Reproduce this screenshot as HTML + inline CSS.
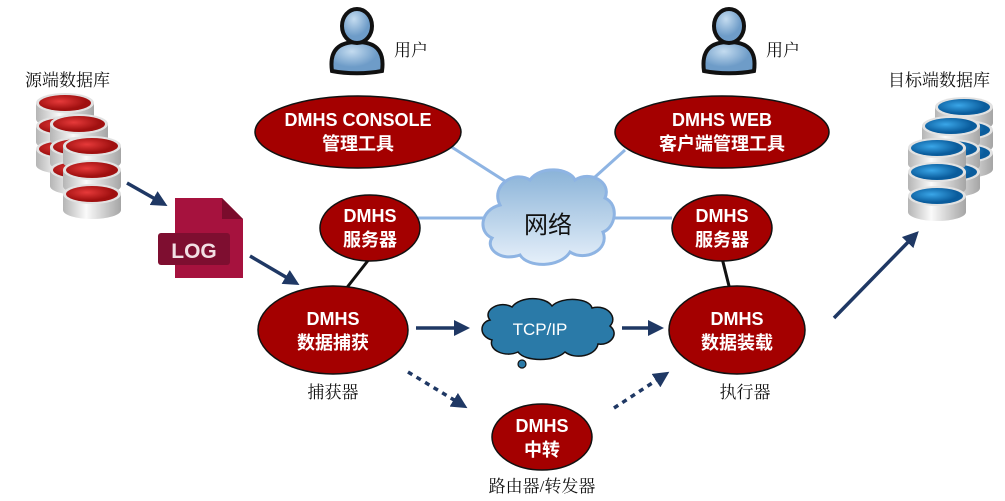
<!DOCTYPE html>
<html><head><meta charset="utf-8"><style>
html,body{margin:0;padding:0;background:#fff;width:1005px;height:501px;overflow:hidden}
svg{display:block}
.cn{font-family:"Liberation Serif","Noto Serif CJK SC",serif;font-size:17px;fill:#111}
.w{font-family:"Liberation Sans","Noto Sans CJK SC",sans-serif;font-weight:bold;fill:#fff;font-size:18px;text-anchor:middle}
</style></head><body>
<svg width="1005" height="501" viewBox="0 0 1005 501">
<defs>
<linearGradient id="cyl" x1="0" x2="1"><stop offset="0" stop-color="#b5b5b5"/><stop offset=".4" stop-color="#fafafa"/><stop offset="1" stop-color="#a5a5a5"/></linearGradient>
<radialGradient id="red" cx=".4" cy=".4"><stop offset="0" stop-color="#e63a3a"/><stop offset="1" stop-color="#a01010"/></radialGradient>
<radialGradient id="blue" cx=".4" cy=".4"><stop offset="0" stop-color="#3aa6e8"/><stop offset="1" stop-color="#0a5c9c"/></radialGradient>
<radialGradient id="user" cx=".4" cy=".3"><stop offset="0" stop-color="#c4dcf0"/><stop offset="1" stop-color="#6e9cc8"/></radialGradient>
<linearGradient id="cloud" x1="0" y1="0" x2="0" y2="1"><stop offset="0" stop-color="#8ab3d8"/><stop offset="1" stop-color="#e6f0fa"/></linearGradient>
<marker id="ah2" markerWidth="16" markerHeight="16" refX="12" refY="8" orient="auto" markerUnits="userSpaceOnUse" viewBox="0 0 16 16"><path d="M0,0 L16,8 L0,16z" fill="#1f3864"/></marker>
<g id="cylr"><rect x="0" y="0" width="58" height="16" fill="url(#cyl)"/><ellipse cx="29" cy="16" rx="29" ry="9" fill="url(#cyl)"/><ellipse cx="29" cy="0" rx="29" ry="10" fill="#e2e2e2"/><ellipse cx="29" cy="0" rx="26" ry="8" fill="url(#red)"/></g>
<g id="cylb"><rect x="0" y="0" width="58" height="16" fill="url(#cyl)"/><ellipse cx="29" cy="16" rx="29" ry="9" fill="url(#cyl)"/><ellipse cx="29" cy="0" rx="29" ry="10" fill="#e2e2e2"/><ellipse cx="29" cy="0" rx="26" ry="8" fill="url(#blue)"/></g>
<g id="usr"><path d="M-25,33 C-28,12 -18,4 0,4 C18,4 28,12 25,33 C10,36 -10,36 -25,33 Z" fill="url(#user)" stroke="#111" stroke-width="4"/><ellipse cx="0" cy="-12" rx="15" ry="17" fill="url(#user)" stroke="#111" stroke-width="4"/></g>
</defs>

<text x="25" y="86" class="cn">源端数据库</text>
<use href="#cylr" x="36" y="103"/><use href="#cylr" x="36" y="126"/><use href="#cylr" x="36" y="149"/>
<use href="#cylr" x="50" y="124"/><use href="#cylr" x="50" y="147"/><use href="#cylr" x="50" y="170"/>
<use href="#cylr" x="63" y="146"/><use href="#cylr" x="63" y="170"/><use href="#cylr" x="63" y="194"/>

<text x="888" y="86" class="cn">目标端数据库</text>
<use href="#cylb" x="935" y="107"/><use href="#cylb" x="935" y="130"/><use href="#cylb" x="935" y="153"/>
<use href="#cylb" x="922" y="126"/><use href="#cylb" x="922" y="149"/><use href="#cylb" x="922" y="172"/>
<use href="#cylb" x="908" y="148"/><use href="#cylb" x="908" y="172"/><use href="#cylb" x="908" y="196"/>

<path d="M175,198 L222,198 L243,219 L243,278 L175,278 Z" fill="#a6123e"/>
<path d="M222,198 L243,219 L222,219 Z" fill="#7a0c2c"/>
<rect x="158" y="233" width="72" height="32" rx="3" fill="#7e0e30"/>
<text x="194" y="258" font-family="Liberation Sans,sans-serif" font-weight="bold" font-size="21" fill="#f2dfe4" text-anchor="middle">LOG</text>

<use href="#usr" x="357" y="38"/><text x="394" y="56" class="cn" font-size="15">用户</text>
<use href="#usr" x="729" y="38"/><text x="766" y="56" class="cn" font-size="15">用户</text>

<g stroke="#8eb4e3" stroke-width="3">
<line x1="450" y1="146" x2="522" y2="192"/><line x1="625" y1="150" x2="585" y2="186"/>
<line x1="418" y1="218" x2="495" y2="218"/><line x1="605" y1="218" x2="672" y2="218"/>
</g>
<g stroke="#111" stroke-width="3">
<line x1="370" y1="258" x2="345" y2="290"/><line x1="722" y1="258" x2="730" y2="290"/>
</g>

<path d="M500,205 C490,185 515,170 530,180 C540,165 570,168 575,180 C590,170 612,182 605,198 C620,205 615,228 603,232 C610,250 585,262 570,252 C560,268 528,268 520,255 C500,262 485,248 492,238 C478,232 480,210 500,205 Z" fill="url(#cloud)" stroke="#8eb4e3" stroke-width="3"/>
<text x="548" y="233" font-family="Liberation Sans,'Noto Sans CJK SC',sans-serif" font-size="24" fill="#111" text-anchor="middle">网络</text>

<path d="M490,320 C482,310 500,300 512,307 C520,296 545,296 552,306 C562,296 590,298 592,308 C608,304 618,318 610,326 C620,334 610,346 598,344 C596,356 575,360 565,352 C555,362 525,362 518,352 C505,358 488,350 492,340 C478,336 480,322 490,320 Z" fill="#2a7aa8" stroke="#111" stroke-width="1.5"/>
<circle cx="522" cy="364" r="4" fill="#2a7aa8" stroke="#111" stroke-width="1.2"/>
<text x="540" y="335" font-family="Liberation Sans,sans-serif" font-size="17" fill="#fff" text-anchor="middle">TCP/IP</text>

<g fill="#a40000" stroke="#111" stroke-width="1.5">
<ellipse cx="358" cy="132" rx="103" ry="36"/>
<ellipse cx="722" cy="132" rx="107" ry="36"/>
<ellipse cx="370" cy="228" rx="50" ry="33"/>
<ellipse cx="722" cy="228" rx="50" ry="33"/>
<ellipse cx="333" cy="330" rx="75" ry="44"/>
<ellipse cx="737" cy="330" rx="68" ry="44"/>
<ellipse cx="542" cy="437" rx="50" ry="33"/>
</g>
<text class="w" x="358" y="126">DMHS CONSOLE</text><text class="w" x="358" y="150">管理工具</text>
<text class="w" x="722" y="126">DMHS WEB</text><text class="w" x="722" y="150">客户端管理工具</text>
<text class="w" x="370" y="222">DMHS</text><text class="w" x="370" y="246">服务器</text>
<text class="w" x="722" y="222">DMHS</text><text class="w" x="722" y="246">服务器</text>
<text class="w" x="333" y="325">DMHS</text><text class="w" x="333" y="349">数据捕获</text>
<text class="w" x="737" y="325">DMHS</text><text class="w" x="737" y="349">数据装载</text>
<text class="w" x="542" y="432">DMHS</text><text class="w" x="542" y="456">中转</text>

<text x="333" y="398" class="cn" text-anchor="middle">捕获器</text>
<text x="745" y="398" class="cn" text-anchor="middle">执行器</text>
<text x="542" y="492" class="cn" text-anchor="middle">路由器/转发器</text>

<g stroke="#1f3864" stroke-width="3.5" fill="none">
<line x1="127" y1="183" x2="164" y2="204" marker-end="url(#ah2)"/>
<line x1="250" y1="256" x2="296" y2="283" marker-end="url(#ah2)"/>
<line x1="416" y1="328" x2="466" y2="328" marker-end="url(#ah2)"/>
<line x1="622" y1="328" x2="660" y2="328" marker-end="url(#ah2)"/>
<line x1="834" y1="318" x2="916" y2="234" marker-end="url(#ah2)"/>
<line x1="408" y1="372" x2="464" y2="406" stroke-dasharray="5,5" marker-end="url(#ah2)"/>
<line x1="614" y1="408" x2="666" y2="374" stroke-dasharray="5,5" marker-end="url(#ah2)"/>
</g>
</svg>
</body></html>
